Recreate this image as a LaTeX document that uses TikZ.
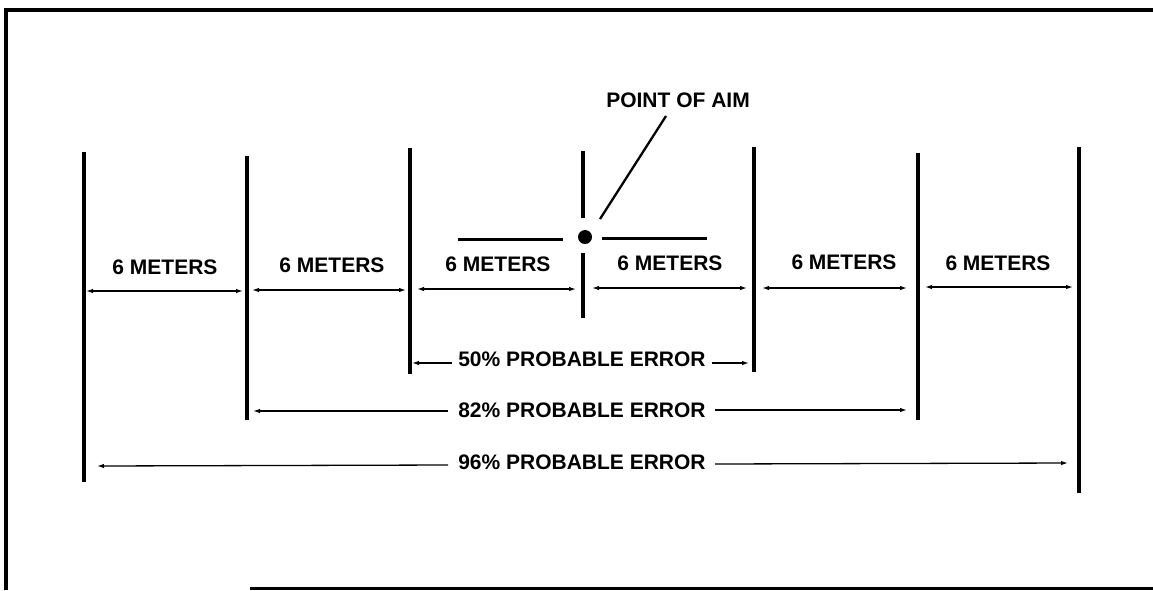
\documentclass[tikz,border=0pt]{standalone}
\usepackage{fontspec}
\setmainfont{Liberation Sans}
\usetikzlibrary{arrows.meta}
\tikzset{
  lbl/.style={font=\bfseries\fontsize{21}{25}\selectfont, inner sep=0pt, anchor=base},
  post/.style={line width=4pt},
  dim/.style={line width=1.3pt, -{Latex[length=7pt,width=4.5pt]}},
  dimboth/.style={line width=1.3pt, {Latex[length=7pt,width=4.5pt]}-{Latex[length=7pt,width=4.5pt]}},
  frameline/.style={line width=3.5pt},
}
\begin{document}
\begin{tikzpicture}[x=1pt,y=-1pt]
\useasboundingbox (0,0) rectangle (1153,590);
% frame
\coordinate (fTL) at (4,10);
\coordinate (fTR) at (1153,10);
\coordinate (fBL) at (6,590);
\coordinate (fBs) at (250,588);
\coordinate (fBR) at (1153,588);
\draw[frameline] (fTR) -- (fTL) -- (6,10) -- (fBL);
\draw[line width=3pt] (fBs) -- (fBR);
% vertical posts
\coordinate (p1t) at (84,152);  \coordinate (p1b) at (84,482);
\coordinate (p2t) at (247,156); \coordinate (p2b) at (247,420);
\coordinate (p3t) at (410,148); \coordinate (p3b) at (410,374);
\coordinate (p4t) at (583,151); \coordinate (p4m) at (583,218);
\coordinate (p4n) at (583,253); \coordinate (p4b) at (583,318);
\coordinate (p5t) at (754,147); \coordinate (p5b) at (754,372);
\coordinate (p6t) at (918,153); \coordinate (p6b) at (918,420);
\coordinate (p7t) at (1079,147); \coordinate (p7b) at (1079,493);
\foreach \a/\b in {p1t/p1b,p2t/p2b,p3t/p3b,p5t/p5b,p6t/p6b,p7t/p7b}
  \draw[post] (\a) -- (\b);
\draw[line width=3.5pt] (p4t) -- (p4m);
\draw[line width=3.5pt] (p4n) -- (p4b);
% point of aim
\node[circle, fill=black, minimum size=14pt, inner sep=0pt] (aim) at (585,237) {};
\coordinate (hl1) at (458,239); \coordinate (hl2) at (563,239);
\coordinate (hr1) at (602,238); \coordinate (hr2) at (707,238);
\draw[line width=3pt] (hl1) -- (hl2);
\draw[line width=3pt] (hr1) -- (hr2);
\node[lbl] (poa) at (678,107) {POINT OF AIM};
\coordinate (ptr1) at (600,219);
\coordinate (ptr2) at (666,116);
\draw[line width=2.3pt] (ptr1) -- (ptr2);
% 6 meters dimensions
\coordinate (a1l) at (86,291);  \coordinate (a1r) at (243,291);
\coordinate (a2l) at (252,290); \coordinate (a2r) at (406,290);
\coordinate (a3l) at (417,289); \coordinate (a3r) at (576,289);
\coordinate (a4l) at (592,288); \coordinate (a4r) at (747,288);
\coordinate (a5l) at (762,288); \coordinate (a5r) at (907,288);
\coordinate (a6l) at (925,287); \coordinate (a6r) at (1073,287);
\foreach \i in {1,...,6} \draw[dimboth] (a\i l) -- (a\i r);
\node[lbl] (m1) at (165,274) {6 METERS};
\node[lbl] (m2) at (332,272) {6 METERS};
\node[lbl] (m3) at (498,271.5) {6 METERS};
\node[lbl] (m4) at (670,270) {6 METERS};
\node[lbl] (m5) at (844,269) {6 METERS};
\node[lbl] (m6) at (998,270.5) {6 METERS};
% probable error dimensions
\node[lbl] (e50) at (582,366) {50\% PROBABLE ERROR};
\coordinate (e50l) at (412,363); \coordinate (e50r) at (749,363);
\coordinate (e50a) at (452,363); \coordinate (e50b) at (712,363);
\draw[dim] (e50a) -- (e50l);
\draw[dim] (e50b) -- (e50r);
\node[lbl] (e82) at (582,417) {82\% PROBABLE ERROR};
\coordinate (e82l) at (253,411); \coordinate (e82r) at (907,410);
\coordinate (e82a) at (448,411); \coordinate (e82b) at (715,410);
\draw[dim] (e82a) -- (e82l);
\draw[dim] (e82b) -- (e82r);
\node[lbl] (e96) at (582,469) {96\% PROBABLE ERROR};
\coordinate (e96l) at (97,466); \coordinate (e96r) at (1068,463);
\coordinate (e96a) at (448,465); \coordinate (e96b) at (715,464);
\draw[dim] (e96a) -- (e96l);
\draw[dim] (e96b) -- (e96r);
\end{tikzpicture}
\end{document}
